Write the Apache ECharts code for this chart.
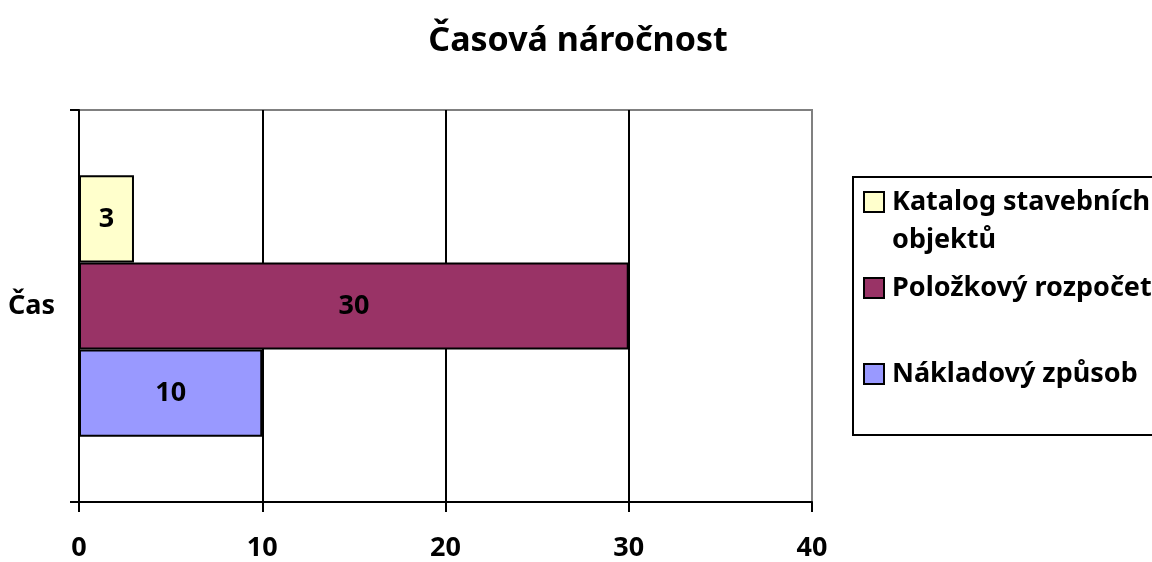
<!DOCTYPE html>
<html>
<head>
<meta charset="utf-8">
<script src="https://cdn.jsdelivr.net/npm/echarts@6/dist/echarts.min.js"></script>
<style>
html, body { margin: 0; padding: 0; background: #fff; }
#main { width: 1152px; height: 562px; }
</style>
</head>
<body>
<div id="main"></div>
<script>
var categories = ["Čas"];
var seriesNames = ["Katalog stavebních objektů", "Položkový rozpočet", "Nákladový způsob"];
var katalog = [3];
var polozkovy = [30];
var nakladovy = [10];
var xTicks = [0, 10, 20, 30, 40];

var fontName = "Noto Sans";
var colors = ["#FFFFCC", "#993366", "#9999FF"];

function barSeries(name, data, color) {
	return {
		name: name,
		type: "bar",
		data: data,
		barGap: "0%",
		barCategoryGap: "33.3%",
		itemStyle: { color: color, borderColor: "#000", borderWidth: 2 },
		label: {
			show: true,
			position: "inside",
			color: "#000",
			fontFamily: fontName,
			fontWeight: "bold",
			fontSize: 27
		}
	};
}

//一个图例一项，方便控制每项的位置
function legendItem(name, top, text) {
	return {
		data: [name],
		orient: "vertical",
		left: 863,
		top: top,
		padding: 0,
		itemWidth: 20,
		itemHeight: 20,
		icon: "rect",
		itemStyle: { borderColor: "#000", borderWidth: 2 },
		selectedMode: false,
		formatter: function() { return text; },
		textStyle: {
			fontFamily: fontName,
			fontWeight: "bold",
			fontSize: 27,
			lineHeight: 38,
			color: "#000",
			padding: [0, 0, 0, 3]
		}
	};
}

var chart = echarts.init(document.getElementById("main"));
chart.setOption({
	animation: false,
	backgroundColor: "#fff",
	title: {
		text: "Časová náročnost",
		left: 573,
		top: 19,
		textAlign: "center",
		textStyle: { fontFamily: fontName, fontWeight: "bold", fontSize: 34, color: "#000" }
	},
	grid: {
		left: 79,
		right: 340,
		top: 110,
		bottom: 59,
		show: true,
		borderColor: "#808080",
		borderWidth: 2
	},
	xAxis: {
		type: "value",
		min: xTicks[0],
		max: xTicks[xTicks.length - 1],
		interval: 10,
		axisLine: { show: true, lineStyle: { color: "#000", width: 2 } },
		axisTick: { show: true, length: 10, lineStyle: { color: "#000", width: 2 } },
		axisLabel: {
			margin: 33,
			color: "#000",
			fontFamily: fontName,
			fontWeight: "bold",
			fontSize: 27
		},
		splitLine: { show: true, showMinLine: false, showMaxLine: false, lineStyle: { color: "#000", width: 2 } }
	},
	yAxis: {
		type: "category",
		data: categories,
		axisLine: { show: true, lineStyle: { color: "#000", width: 2 } },
		axisTick: { show: true, length: 9, lineStyle: { color: "#000", width: 2 } },
		axisLabel: {
			margin: 24,
			color: "#000",
			fontFamily: fontName,
			fontWeight: "bold",
			fontSize: 27
		}
	},
	legend: [
		legendItem(seriesNames[0], 145, "\nKatalog stavebních\nobjektů"),
		legendItem(seriesNames[1], 269, "Položkový rozpočet"),
		legendItem(seriesNames[2], 355, "Nákladový způsob")
	],
	graphic: [{
		type: "rect",
		shape: { x: 853, y: 177, width: 320, height: 258 },
		style: { fill: "none", stroke: "#000", lineWidth: 2 },
		z: -1
	}],
	series: [
		barSeries(seriesNames[0], katalog, colors[0]),
		barSeries(seriesNames[1], polozkovy, colors[1]),
		barSeries(seriesNames[2], nakladovy, colors[2])
	]
});
</script>
</body>
</html>
